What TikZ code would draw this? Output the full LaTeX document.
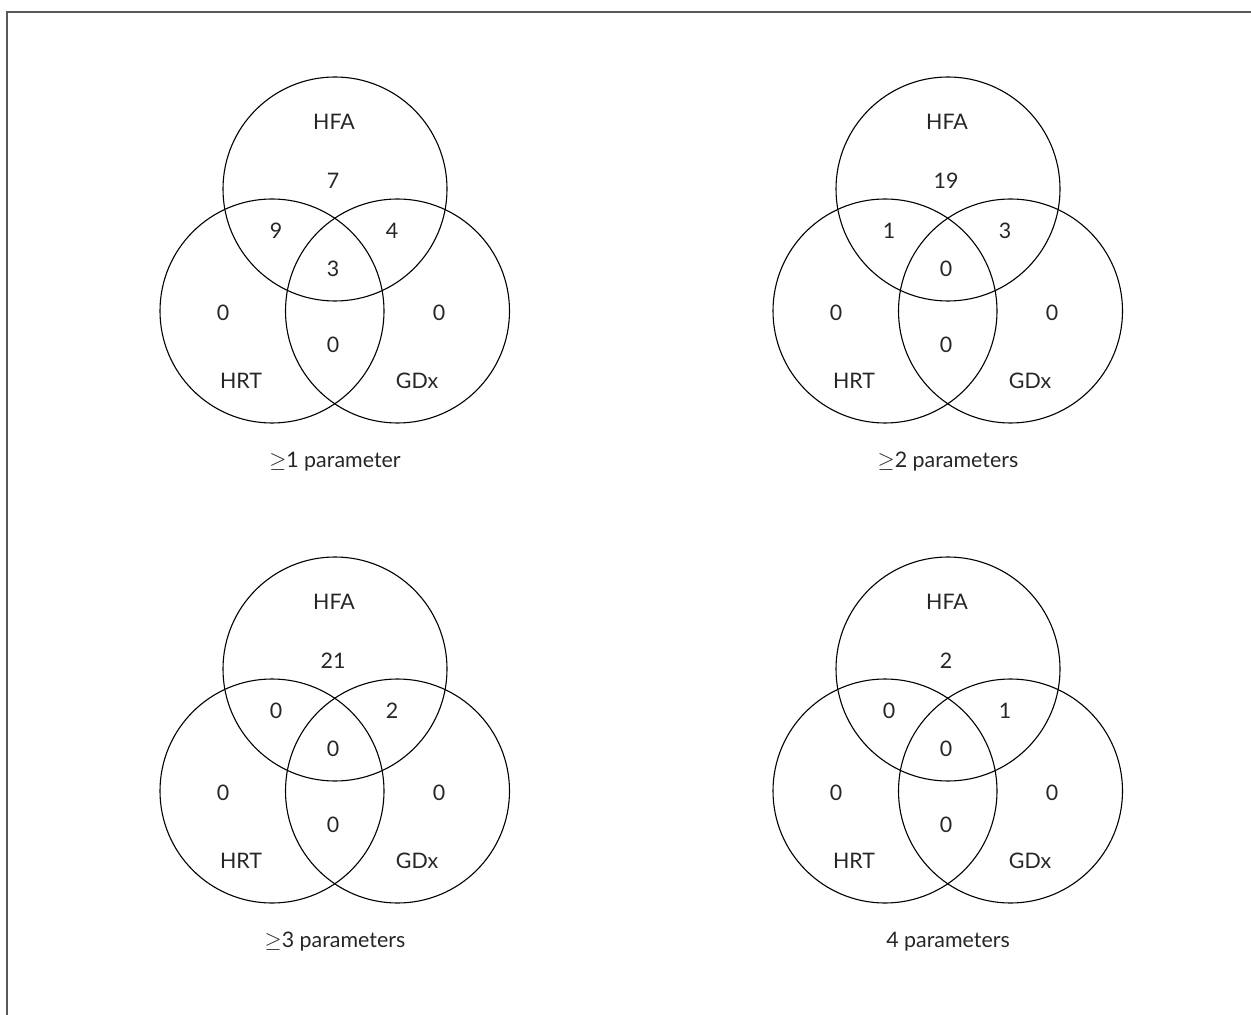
\documentclass[tikz,border=0pt]{standalone}
\usepackage{fontspec}
\setmainfont{Lato}
\usetikzlibrary{calc}

\tikzset{
 set/.style={circle, draw, black, line width=.55pt, minimum size=112pt, inner sep=0},
 num/.style={inner sep=1pt, text=black!85, font=\fontsize{10.7}{13}\selectfont},
 frame/.style={black!65, line width=1pt}
}

\begin{document}
\begin{tikzpicture}[x=.5pt, y=-.5pt]
\useasboundingbox (0,0) rectangle (1251,1015);
\draw[frame] (7,1015) -- (7,12) -- (1251,12);
% one venn per panel: centre of HFA circle, then the seven counts and the caption
\foreach \i/\px/\py/\a/\ab/\ac/\abc/\b/\bc/\c/\cpt in {
 1/335/189/7/9/4/3/0/0/0/{$\geq$1 parameter},
 2/948/189/19/1/3/0/0/0/0/{$\geq$2 parameters},
 3/335/669/21/0/2/0/0/0/0/{$\geq$3 parameters},
 4/948/669/2/0/1/0/0/0/0/{4 parameters}} {
 \begin{scope}[shift={(\px,\py)}]
  \node[set] (hfa\i) at (0,0) {};
  \node[set] (hrt\i) at (-63,122) {};
  \node[set] (gdx\i) at (62.5,122) {};
  \node[num] (hfal\i) at (-1,-67) {HFA};
  \node[num] (hrtl\i) at (-94,192) {HRT};
  \node[num] (gdxl\i) at (82,192) {GDx};
  \node[num] (a\i) at (-2,-8) {\a};
  \node[num] (ab\i) at (-59,42) {\ab};
  \node[num] (ac\i) at (57,42) {\ac};
  \node[num] (abc\i) at (-2,80) {\abc};
  \node[num] (b\i) at (-112,124) {\b};
  \node[num] (c\i) at (104,124) {\c};
  \node[num] (bc\i) at (-2,156) {\bc};
  \node[num] (cpt\i) at (0,273) {\cpt};
 \end{scope}
}
\end{tikzpicture}
\end{document}
